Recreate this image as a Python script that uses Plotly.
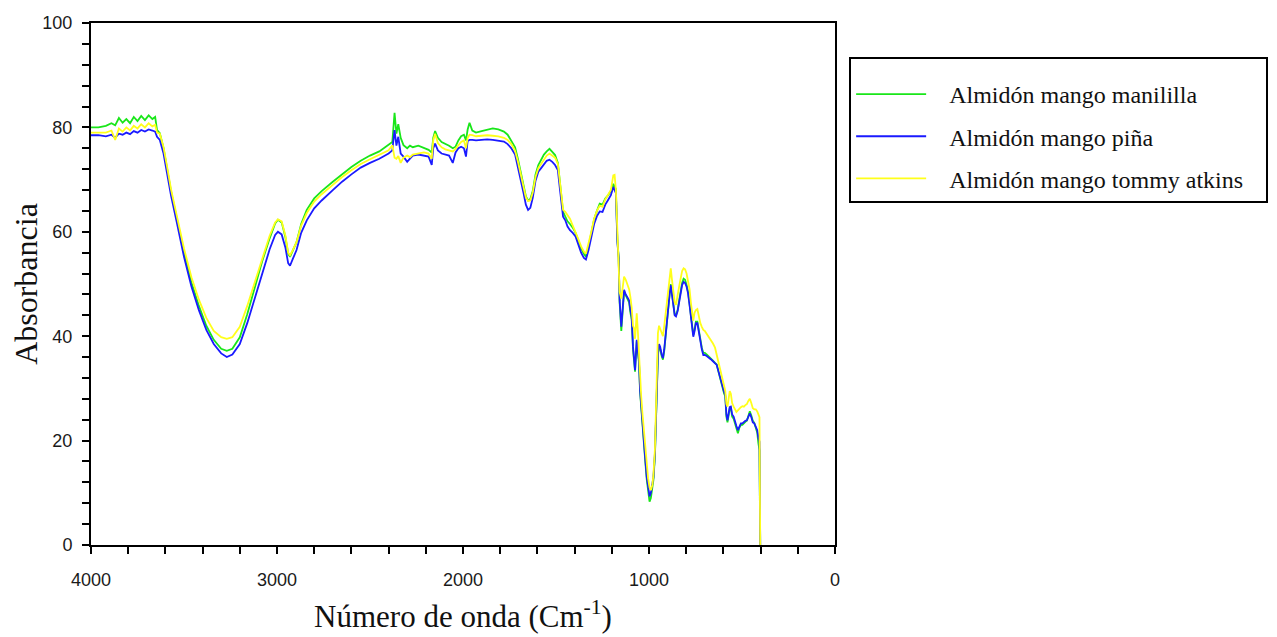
import plotly.graph_objects as go

# ---- data ----
WAVENUMBER = [
    4000, 3960, 3920, 3890, 3870, 3850, 3830, 3810, 3790, 3770,
    3750, 3730, 3710, 3690, 3670, 3655, 3645, 3630, 3610, 3590,
    3570, 3540, 3500, 3460, 3420, 3380, 3340, 3300, 3270, 3240,
    3200, 3160, 3120, 3080, 3040, 3010, 2995, 2975, 2955, 2940,
    2930, 2915, 2895, 2870, 2840, 2800, 2760, 2700, 2650, 2600,
    2550, 2500, 2450, 2400, 2380, 2368, 2358, 2348, 2335, 2320,
    2300, 2285, 2270, 2240, 2210, 2185, 2168, 2160, 2150, 2135,
    2115, 2095, 2075, 2055, 2040, 2025, 2010, 1995, 1984, 1975,
    1965, 1950, 1930, 1900, 1870, 1840, 1810, 1780, 1760, 1740,
    1720, 1705, 1690, 1675, 1662, 1650, 1638, 1625, 1610, 1595,
    1580, 1565, 1550, 1535, 1520, 1505, 1490, 1480, 1472, 1462,
    1450, 1438, 1425, 1410, 1395, 1380, 1365, 1350, 1339, 1325,
    1310, 1295, 1280, 1265, 1250, 1235, 1220, 1205, 1192, 1185,
    1178, 1170, 1163, 1158, 1149, 1140, 1134, 1125, 1115, 1107,
    1100, 1093, 1086, 1080, 1075, 1066, 1060, 1054, 1048, 1042,
    1036, 1028, 1020, 1012, 1005, 997, 990, 982, 976, 968,
    963, 957, 952, 946, 940, 932, 925, 918, 912, 904,
    896, 888, 883, 877, 870, 862, 855, 846, 838, 830,
    822, 814, 806, 798, 790, 782, 775, 768, 762, 755,
    748, 740, 732, 724, 716, 708, 700, 690, 680, 668,
    656, 645, 636, 628, 620, 612, 604, 596, 590, 584,
    578, 572, 566, 560, 553, 545, 538, 530, 522, 514,
    506, 498, 490, 482, 474, 466, 458, 450, 442, 434,
    426, 418, 412, 406, 402,
]

MANILILLA = [
    80.0, 80.0, 80.3, 80.8, 80.4, 81.8, 80.9, 81.6, 80.8, 82.0,
    81.2, 82.2, 81.4, 82.3, 81.6, 82.0, 79.5, 78.9, 76.0, 72.0,
    67.8, 62.8, 56.0, 50.3, 45.8, 42.0, 39.3, 37.6, 37.2, 37.6,
    39.8, 44.2, 49.2, 54.3, 58.7, 61.6, 62.3, 61.8, 59.0, 55.8,
    55.2, 56.3, 58.0, 61.5, 64.2, 66.4, 67.8, 69.6, 71.0, 72.4,
    73.6, 74.6, 75.4, 76.6, 77.2, 82.8, 78.8, 80.6, 78.0, 76.6,
    76.0, 76.5, 76.2, 76.5, 76.1, 75.7, 75.2, 78.0, 79.3, 78.0,
    77.2, 76.9, 76.5, 76.0, 76.3, 77.5, 78.3, 78.6, 77.5, 79.6,
    80.9, 79.4, 79.0, 79.3, 79.6, 79.8, 79.6, 79.2, 78.6, 77.5,
    76.2, 74.0, 71.5, 69.0, 66.8, 66.0, 66.3, 67.8, 71.0, 72.8,
    73.8, 74.8, 75.4, 75.9, 75.3, 74.7, 73.2, 69.5, 66.5, 63.8,
    62.9, 62.0, 61.5, 60.8, 59.8, 58.2, 56.8, 55.8, 55.2, 57.2,
    59.8, 62.4, 64.0, 65.4, 65.2, 66.4, 67.0, 67.8, 69.2, 68.5,
    68.2, 58.5, 55.0, 46.5, 41.0, 45.5, 48.6, 47.8, 47.0, 46.5,
    44.5, 43.2, 37.5, 34.5, 33.2, 39.0, 36.6, 35.0, 29.3, 26.0,
    22.8, 19.5, 16.0, 12.5, 10.3, 8.3, 9.0, 10.8, 12.5, 17.2,
    23.6, 30.0, 36.3, 38.0, 37.6, 36.2, 35.5, 37.2, 39.8, 43.2,
    45.8, 48.5, 50.0, 48.2, 46.2, 44.2, 44.0, 45.0, 46.8, 48.8,
    50.2, 51.0, 50.8, 49.8, 48.5, 46.2, 44.0, 41.2, 40.2, 41.3,
    42.8, 42.8, 40.8, 39.6, 37.8, 36.8, 36.8, 36.5, 36.2, 35.8,
    35.3, 34.9, 34.6, 33.4, 32.2, 31.0, 29.8, 29.0, 28.5, 24.6,
    23.5, 24.8, 26.2, 26.3, 24.6, 24.2, 23.2, 22.4, 21.4, 22.5,
    23.0, 23.0, 23.4, 23.6, 23.8, 24.6, 25.6, 24.8, 23.8, 23.4,
    22.3, 21.5, 19.5, 18.2, 0.0,
]

PINA = [
    78.5, 78.5, 78.3, 78.6, 78.0, 78.8, 78.6, 79.0, 78.7, 79.3,
    79.0, 79.5, 79.2, 79.6, 79.4, 79.2, 78.2, 77.6, 75.0, 71.0,
    67.0, 62.0, 55.2, 49.5, 45.0, 41.2, 38.5, 36.7, 36.0, 36.5,
    38.5, 42.5, 47.3, 52.3, 56.6, 59.4, 60.0, 59.5, 57.0, 54.0,
    53.5, 54.8, 56.5, 59.8, 62.2, 64.5, 66.0, 68.0, 69.6, 71.0,
    72.3, 73.2, 74.0, 75.0, 75.6, 79.5, 76.5, 78.2, 75.0, 74.4,
    73.4, 74.0, 74.6, 74.8, 74.6, 74.4, 72.8, 76.0, 76.9, 75.6,
    75.0, 74.8, 74.6, 73.2, 75.2, 76.0, 76.3, 76.0, 74.4, 77.4,
    77.6, 77.6, 77.5, 77.6, 77.7, 77.6, 77.5, 77.3, 76.8, 76.0,
    74.8, 72.5, 70.0, 67.5, 65.2, 64.2, 64.6, 66.5, 69.8, 71.5,
    72.2, 73.0, 73.6, 73.8, 73.4, 72.8, 71.8, 68.5, 65.5, 62.9,
    62.2, 61.0, 60.3, 59.8, 59.1, 57.5, 56.0, 55.0, 54.7, 56.5,
    59.0, 61.5, 63.0, 63.9, 63.8, 65.2, 66.1, 67.0, 68.6, 67.8,
    67.4, 58.0, 55.0, 46.9, 41.8, 46.0, 48.9, 48.0, 47.5, 46.9,
    45.0, 43.7, 38.0, 35.0, 33.5, 39.3, 37.0, 35.4, 29.7, 26.5,
    23.3, 20.0, 16.5, 13.0, 11.0, 9.3, 10.0, 11.5, 13.0, 17.6,
    24.0, 30.5, 36.7, 38.5, 38.0, 36.5, 35.8, 37.5, 40.0, 43.5,
    46.0, 48.5, 49.8, 48.0, 46.0, 44.0, 43.8, 44.8, 46.5, 48.5,
    49.8, 50.4, 50.2, 49.5, 48.2, 46.0, 43.7, 41.0, 39.9, 41.0,
    42.5, 42.5, 40.5, 39.3, 37.5, 36.4, 36.4, 36.2, 36.0, 35.6,
    35.2, 34.8, 34.5, 33.5, 32.3, 31.2, 30.0, 29.3, 28.8, 25.0,
    23.9, 25.2, 26.4, 26.5, 25.0, 24.6, 23.5, 22.8, 22.0, 22.8,
    23.3, 23.3, 23.6, 23.8, 23.9, 24.5, 25.2, 24.5, 23.5, 23.3,
    22.5, 22.0, 20.5, 19.8, 0.0,
]

TOMMY = [
    79.0, 79.0, 79.0, 79.4, 77.6, 79.8, 79.2, 80.0, 79.4, 80.3,
    79.8, 80.6, 80.0, 80.8, 80.2, 80.5, 79.0, 78.8, 76.2, 72.3,
    68.2, 63.3, 56.8, 51.3, 47.0, 43.5, 41.0, 39.8, 39.5, 39.8,
    41.8, 45.8, 50.3, 55.0, 59.2, 61.8, 62.4, 62.0, 59.3, 56.0,
    55.5, 56.5, 58.0, 61.2, 63.6, 65.8, 67.2, 69.0, 70.5, 71.8,
    73.0, 73.9, 74.7, 75.6, 76.6, 74.2, 74.0, 74.5, 73.2, 74.2,
    74.6, 74.3, 74.8, 75.0, 75.2, 75.0, 74.0, 77.5, 78.8, 77.0,
    76.2, 75.8, 75.6, 75.4, 75.9, 76.6, 77.2, 77.5, 76.0, 78.0,
    78.6, 78.5, 78.3, 78.4, 78.5, 78.4, 78.3, 78.0, 77.6, 76.8,
    75.5, 73.5, 71.0, 68.8, 66.6, 65.9, 66.0, 67.5, 70.5, 72.2,
    73.0, 74.0, 74.6, 75.0, 74.6, 74.2, 73.0, 70.0, 67.0, 64.2,
    63.8, 63.2, 62.5, 61.2, 60.0, 58.6, 57.2, 56.2, 55.8, 57.6,
    60.0, 62.5, 64.0, 65.0, 64.8, 66.2, 67.2, 68.0, 70.8, 70.9,
    68.0, 60.0, 52.0, 48.5, 47.2, 50.0, 51.4, 50.8, 49.5, 49.0,
    47.5, 45.5, 42.0, 41.5, 39.5, 44.4, 41.0, 36.0, 31.5, 28.5,
    25.5, 22.0, 19.0, 15.5, 12.8, 11.0, 10.5, 11.5, 13.5, 18.5,
    26.0, 35.0, 40.6, 42.0, 41.5, 40.5, 40.0, 42.0, 44.0, 47.0,
    49.0, 51.5, 53.0, 51.0, 48.5, 46.5, 46.0, 47.5, 49.5, 51.0,
    52.5, 53.0, 52.8, 52.0, 50.8, 49.0, 46.5, 44.0, 43.0, 44.5,
    45.0, 45.2, 43.5, 42.5, 41.8, 41.2, 41.0, 40.5, 40.0, 39.2,
    38.6, 37.8, 36.5, 35.5, 34.2, 33.0, 31.5, 30.8, 29.5, 27.0,
    26.5, 28.0, 29.5, 29.0, 27.2, 26.5, 26.0, 25.5, 25.8, 26.2,
    26.4, 26.6, 26.5, 26.8, 27.0, 27.6, 28.0, 27.2, 26.2, 26.0,
    26.0, 25.6, 25.0, 24.5, 0.0,
]

SERIES_NAMES = ["Almidón mango manililla", "Almidón mango piña", "Almidón mango tommy atkins"]
SERIES_COLORS = ["#19e619", "#1a1aff", "#ffff1a"]
X_TICKS = [4000, 3000, 2000, 1000, 0]
Y_TICKS = [0, 20, 40, 60, 80, 100]

for arr in (MANILILLA, PINA, TOMMY):
    assert len(arr) == len(WAVENUMBER), (len(arr), len(WAVENUMBER))

NBSP = "\u00a0"

fig = go.Figure()
for name, vals, col in zip(SERIES_NAMES, [MANILILLA, PINA, TOMMY], SERIES_COLORS):
    fig.add_trace(go.Scatter(
        x=WAVENUMBER, y=vals, mode="lines", name=NBSP * 3 + name + NBSP * 3,
        line=dict(color=col, width=1.8), legendgroup=name,
    ))

tick_font = dict(family="Liberation Sans, Arial, sans-serif", size=18, color="#1a1a1a")
serif = "Liberation Serif, Times New Roman, serif"

# The page body adds an 8px offset, so the figure is sized 8px smaller.
fig.update_layout(
    width=1269, height=629,
    margin=dict(l=83, r=442, t=15, b=92, autoexpand=False),
    paper_bgcolor="white", plot_bgcolor="white",
    showlegend=True,
    legend=dict(
        x=1.019, y=0.935, xanchor="left", yanchor="top",
        bordercolor="black", borderwidth=2,
        font=dict(family=serif, size=24, color="#111"),
        title=dict(text=NBSP, font=dict(family=serif, size=10)),
        tracegroupgap=8, itemwidth=70,
        bgcolor="white",
    ),
    xaxis=dict(
        range=[4000, 0], tickvals=X_TICKS, ticktext=[str(v) for v in X_TICKS],
        showgrid=False, zeroline=False, automargin=False,
        showline=True, linecolor="black", linewidth=2, mirror=True,
        ticks="outside", ticklen=7, tickwidth=1.5, tickcolor="black",
        minor=dict(dtick=200, ticks="outside", ticklen=7, tickwidth=1.5, tickcolor="black", showgrid=False),
        tickfont=tick_font, ticklabelstandoff=10,
        title=dict(text="Número de onda (Cm<sup>-1</sup>)", font=dict(family=serif, size=31, color="#111"), standoff=17),
    ),
    yaxis=dict(
        range=[0, 100], tickvals=Y_TICKS, ticktext=[str(v) for v in Y_TICKS],
        showgrid=False, zeroline=False, automargin=False,
        showline=True, linecolor="black", linewidth=2, mirror=True,
        ticks="outside", ticklen=7, tickwidth=1.5, tickcolor="black",
        minor=dict(dtick=4, ticks="outside", ticklen=7, tickwidth=1.5, tickcolor="black", showgrid=False),
        tickfont=tick_font, ticklabelstandoff=6,
        title=dict(text="Absorbancia", font=dict(family=serif, size=32, color="#111"), standoff=2),
    ),
)

fig.write_html("out.html")
